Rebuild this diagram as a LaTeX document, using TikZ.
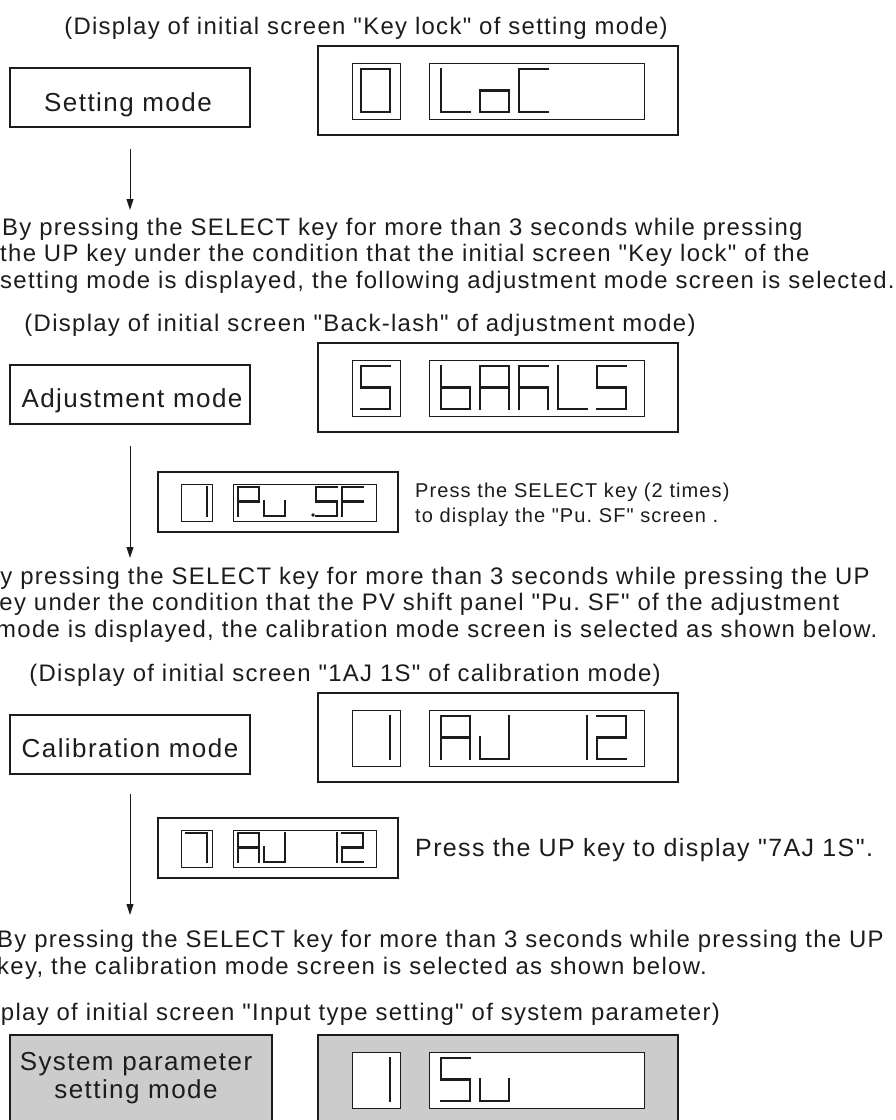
\documentclass[tikz,border=0pt]{standalone}
\usepackage{fontspec}
\setmainfont{Liberation Sans}[LetterSpace=5.5,Ligatures=TeXOff]
\usetikzlibrary{arrows.meta}
\frenchspacing
\definecolor{panelgray}{RGB}{204,204,204}
\definecolor{inkc}{RGB}{28,28,28}
% seven-segment digit: x, y (top-left), width, height, segments, line width
\newcommand\segdig[6]{%
  \begin{scope}[shift={(#1,#2)}]
  \foreach \s in {#5}{%
    \if\s a\draw[inkc,line width=#6,line cap=rect] (0,0)--(#3,0);\fi
    \if\s b\draw[inkc,line width=#6,line cap=rect] (#3,0)--(#3,#4/2);\fi
    \if\s c\draw[inkc,line width=#6,line cap=rect] (#3,#4/2)--(#3,#4);\fi
    \if\s d\draw[inkc,line width=#6,line cap=rect] (0,#4)--(#3,#4);\fi
    \if\s e\draw[inkc,line width=#6,line cap=rect] (0,#4/2)--(0,#4);\fi
    \if\s f\draw[inkc,line width=#6,line cap=rect] (0,0)--(0,#4/2);\fi
    \if\s g\draw[inkc,line width=#6,line cap=rect] (0,#4/2)--(#3,#4/2);\fi
  }%
  \end{scope}}
\newcommand\bigdig[3]{\segdig{#1}{#2}{29}{43}{#3}{2.8pt}}
\newcommand\smalldig[3]{\segdig{#1}{#2}{21}{29}{#3}{2.3pt}}
\begin{document}
\begin{tikzpicture}[x=1pt,y=-1pt,
  modebox/.style={draw=inkc,line width=2pt,inner sep=0},
  dispouter/.style={draw=inkc,line width=2.2pt,inner sep=0,minimum width=360pt,minimum height=89pt},
  dispinner/.style={draw=inkc,line width=0.9pt,inner sep=0,minimum height=56pt},
  smallouter/.style={draw=inkc,line width=2pt,inner sep=0,minimum width=240pt,minimum height=60pt},
  smallinner/.style={draw=inkc,line width=0.9pt,inner sep=0,minimum height=37pt},
  flowarrow/.style={draw=inkc,line width=1pt,-{Triangle[length=11pt,width=7pt]}},
  titletext/.style={anchor=base west,inner sep=0,font=\fontsize{23.9}{28}\selectfont,text=inkc},
  titlecenter/.style={anchor=base,inner sep=0,font=\fontsize{23.9}{28}\selectfont,text=inkc},
  boxlabel/.style={anchor=base,inner sep=0,font=\fontsize{26}{28}\selectfont,text=inkc},
  notetext/.style={anchor=base west,inner sep=0,font=\fontsize{20}{25}\selectfont,text=inkc},
  bignote/.style={anchor=base west,inner sep=0,font=\fontsize{25}{28}\selectfont,text=inkc}]
\useasboundingbox (0,0) rectangle (896,1120);
\clip (0,0) rectangle (896,1120);
\fill[white] (0,0) rectangle (896,1120);

% ---------- Section 1: setting mode ----------
\node[titlecenter] (title1) at (366,34) {(Display of initial screen "Key lock" of setting mode)};
\node[modebox,minimum width=240pt,minimum height=59pt] (setbox) at (130,97.5) {};
\node[boxlabel] (setlbl) at (128,111) {Setting mode};
\node[dispouter] (disp1) at (498,90.5) {};
\node[dispinner,minimum width=48pt] (d1a) at (376,91) {};
\node[dispinner,minimum width=215pt] (d1b) at (536.5,91) {};
\bigdig{361}{69}{a,b,c,d,e,f}
\bigdig{441}{69}{f,e,d}
\bigdig{480}{69}{g,c,d,e}
\bigdig{519}{69}{a,f,e,d}
\coordinate (a1s) at (130,149);
\coordinate (a1e) at (130,210);
\draw[flowarrow] (a1s) -- (a1e);
\node[titletext] (p1a) at (2,235) {By pressing the SELECT key for more than 3 seconds while pressing};
\node[titletext] (p1b) at (0,261.5) {the UP key under the condition that the initial screen "Key lock" of the};
\node[titletext] (p1c) at (0,288) {setting mode is displayed, the following adjustment mode screen is selected.};

% ---------- Section 2: adjustment mode ----------
\node[titlecenter] (title2) at (360,331) {(Display of initial screen "Back-lash" of adjustment mode)};
\node[modebox,minimum width=240pt,minimum height=59pt] (adjbox) at (130,394.5) {};
\node[boxlabel] (adjlbl) at (132,407) {Adjustment mode};
\node[dispouter] (disp2) at (498,387.5) {};
\node[dispinner,minimum width=48pt] (d2a) at (376,388) {};
\node[dispinner,minimum width=215pt] (d2b) at (536.5,388) {};
\bigdig{361}{366}{a,f,g,c,d}
\bigdig{441}{366}{f,e,g,c,d}
\bigdig{480}{366}{a,b,c,e,f,g}
\bigdig{519}{366}{a,f,e,g,c}
\bigdig{558}{366}{f,e,d}
\bigdig{597}{366}{a,f,g,c,d}
\coordinate (a2s) at (130,446);
\coordinate (a2e) at (130,558);
\draw[flowarrow] (a2s) -- (a2e);
% small display Pu.SF
\node[smallouter] (sd1) at (278,502) {};
\node[smallinner,minimum width=31pt] (sd1a) at (196.5,502.5) {};
\node[smallinner,minimum width=143pt] (sd1b) at (304.5,502.5) {};
\smalldig{186}{487}{b,c}
\smalldig{238}{487}{a,b,g,f,e}
\smalldig{264}{487}{e,d,c}
\fill[inkc] (313,515) circle (1.8);
\smalldig{316}{487}{a,f,g,c,d}
\smalldig{342}{487}{a,f,g,e}
\node[notetext] (n1a) at (415,497) {Press the SELECT key (2 times)};
\node[notetext] (n1b) at (415,522) {to display the "Pu. SF" screen .};
\node[titletext] (p2a) at (-17,584) {By pressing the SELECT key for more than 3 seconds while pressing the UP};
\node[titletext] (p2b) at (-14,610.5) {key under the condition that the PV shift panel "Pu. SF" of the adjustment};
\node[titletext] (p2c) at (-4,637) {mode is displayed, the calibration mode screen is selected as shown below.};

% ---------- Section 3: calibration mode ----------
\node[titlecenter] (title3) at (345,681) {(Display of initial screen "1AJ 1S" of calibration mode)};
\node[modebox,minimum width=240pt,minimum height=59pt] (calbox) at (130,744.5) {};
\node[boxlabel] (callbl) at (130,757.5) {Calibration mode};
\node[dispouter] (disp3) at (498,737.5) {};
\node[dispinner,minimum width=48pt] (d3a) at (376,738) {};
\node[dispinner,minimum width=215pt] (d3b) at (536.5,738) {};
\bigdig{361}{716}{b,c}
\bigdig{441}{716}{a,b,c,e,f,g}
\bigdig{480}{716}{b,c,d,e}
\bigdig{558}{716}{b,c}
\bigdig{597}{716}{a,b,g,e,d}
\coordinate (a3s) at (130,794);
\coordinate (a3e) at (130,915);
\draw[flowarrow] (a3s) -- (a3e);
% small display 7AJ 12
\node[smallouter] (sd2) at (278,848) {};
\node[smallinner,minimum width=31pt] (sd2a) at (196.5,848.5) {};
\node[smallinner,minimum width=143pt] (sd2b) at (304.5,848.5) {};
\smalldig{186}{833}{a,b,c}
\smalldig{238}{833}{a,b,c,e,f,g}
\smalldig{264}{833}{b,c,d,e}
\smalldig{316}{833}{b,c}
\smalldig{342}{833}{a,b,g,e,d}
\node[bignote] (n2) at (415,856) {Press the UP key to display "7AJ 1S".};
\node[titletext] (p3a) at (-3,947.5) {By pressing the SELECT key for more than 3 seconds while pressing the UP};
\node[titletext] (p3b) at (-3,974) {key, the calibration mode screen is selected as shown below.};

% ---------- Section 4: system parameter setting mode ----------
\node[titletext] (title4) at (-47,1020) {(Display of initial screen "Input type setting" of system parameter)};
\node[modebox,fill=panelgray,minimum width=262pt,minimum height=95pt] (sysbox) at (141,1082.5) {};
\node[boxlabel] (syslbl1) at (136,1070) {System parameter};
\node[boxlabel] (syslbl2) at (136,1098) {setting mode};
\node[dispouter,fill=panelgray] (disp4) at (498,1079.5) {};
\node[dispinner,fill=white,minimum width=48pt] (d4a) at (376,1080) {};
\node[dispinner,fill=white,minimum width=215pt] (d4b) at (536.5,1080) {};
\bigdig{361}{1058}{b,c}
\bigdig{441}{1058}{a,f,g,c,d}
\bigdig{480}{1058}{e,d,c}
\end{tikzpicture}
\end{document}
